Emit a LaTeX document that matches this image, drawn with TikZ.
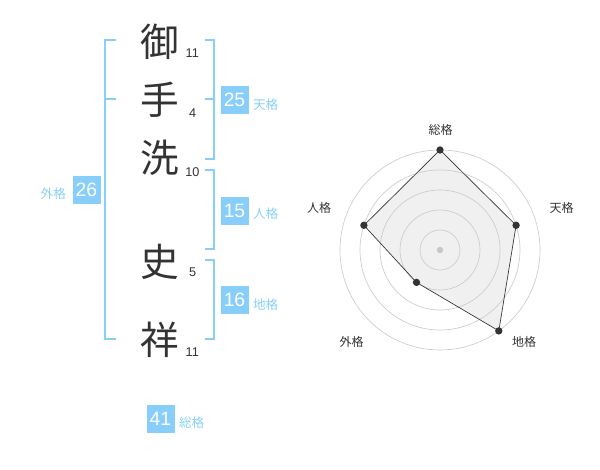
\documentclass[tikz,border=0pt]{standalone}
\usepackage{fontspec}
\setmainfont{Liberation Sans}
\newfontfamily\jp{Noto Sans CJK JP}
\definecolor{sky}{HTML}{87CEFA}
\definecolor{skytext}{HTML}{8ACFF8}
\definecolor{ink}{HTML}{333333}

\begin{document}
\begin{tikzpicture}[x=0.75pt, y=-0.75pt,
	kanji/.style={font=\jp\fontsize{29}{29}\selectfont, text=ink, inner sep=0},
	stroke/.style={font=\fontsize{9.5}{10}\selectfont, text=ink, inner sep=0},
	score/.style={fill=sky, text=white, font=\fontsize{14.5}{15}\selectfont, minimum size=21pt, inner sep=0},
	kaku/.style={font=\jp\fontsize{9.5}{10}\selectfont, text=skytext, inner sep=0},
	brk/.style={draw=sky, line width=1.5pt},
	ring/.style={draw=black!20, line width=0.5pt},
	dot/.style={circle, fill=ink, inner sep=0, minimum size=5.5pt},
	axis/.style={font=\jp\fontsize{9}{9}\selectfont, text=ink, inner sep=0}]
			\useasboundingbox (0,0) rectangle (600,470);
			
			\node[kanji] (k1) at (160,41.7) {御};
			\node[kanji] (k2) at (160,100) {手};
			\node[kanji] (k3) at (160,158.3) {洗};
			\node[kanji] (k4) at (160,261.7) {史};
			\node[kanji] (k5) at (160,340) {祥};
			
			\node[stroke] (s1) at (192.3,53.3) {11};
			\node[stroke] (s2) at (192.7,113.3) {4};
			\node[stroke] (s3) at (192.3,172.3) {10};
			\node[stroke] (s4) at (192.7,272.7) {5};
			\node[stroke] (s5) at (192.3,352.3) {11};
			
			\path[brk] (116,40) -- (105,40) -- (105,339.3) -- (116,339.3);
			\path[brk] (105,99.3) -- (116,99.3);
			\path[brk] (205,40) -- (214.3,40) -- (214.3,159.3) -- (205,159.3);
			\path[brk] (214.3,99.3) -- (205,99.3);
			\path[brk] (205,170) -- (214.3,170) -- (214.3,249.3) -- (205,249.3);
			\path[brk] (205,260) -- (214.3,260) -- (214.3,339.3) -- (205,339.3);
			
			\node[score] (ten) at (234.5,100) {25};
			\node[kaku] at (265.7,104.3) {天格};
			\node[score] (jin) at (234.5,211) {15};
			\node[kaku] at (265.7,213.3) {人格};
			\node[score] (chi) at (234.5,300) {16};
			\node[kaku] at (265.7,304.3) {地格};
			\node[score] (gai) at (86.5,190) {26};
			\node[kaku] at (53.3,194) {外格};
			\node[score] (sou) at (160.5,419) {41};
			\node[kaku] at (191.7,422.3) {総格};
			
			\coordinate (c) at (440,250);
			\coordinate (rsou) at (440,150);
			\coordinate (rten) at (516.1,225.3);
			\coordinate (rchi) at (498.8,330.9);
			\coordinate (rgai) at (416.5,282.4);
			\coordinate (rjin) at (363.9,225.3);
			
			\fill[black!6] (rsou) -- (rten) -- (rchi) -- (rgai) -- (rjin) -- cycle;
			\foreach \r in {20,40,60,80,100}
				\draw[ring] (c) circle[radius=\r];
			\fill[black!22] (c) circle[radius=3.2];
			\draw[ink, line width=0.5pt] (rsou) -- (rten) -- (rchi) -- (rgai) -- (rjin) -- cycle;
			\foreach \p in {rsou,rten,rchi,rgai,rjin}
				\node[dot] at (\p) {};
			
			\node[axis] (lsou) at (440.7,130) {総格};
			\node[axis] (lten) at (561.7,208) {天格};
			\node[axis] (lchi) at (524,341.7) {地格};
			\node[axis] (lgai) at (351.7,341.7) {外格};
			\node[axis] (ljin) at (319,208) {人格};
			\end{tikzpicture}
\end{document}
